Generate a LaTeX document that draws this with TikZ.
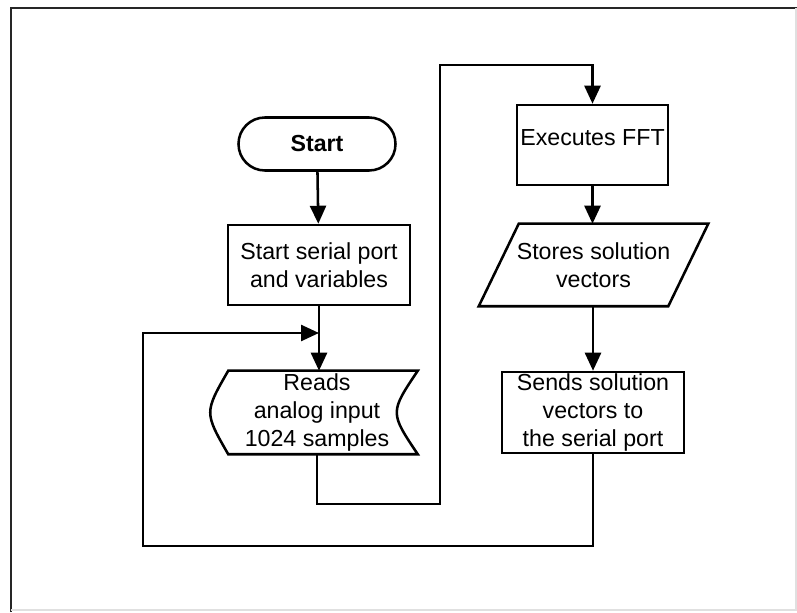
\documentclass[tikz,border=0pt]{standalone}
\usepackage{fontspec}
\setmainfont{Liberation Sans}
\usetikzlibrary{arrows.meta}

\tikzset{
  proc/.style={draw, line width=1.8pt, align=center, inner sep=0pt,
    minimum height=2cm, font=\fontsize{16.5}{19.9}\selectfont},
  flow/.style={line width=1.8pt, -{Triangle[length=4.5mm,width=4mm]}},
}

\begin{document}
\begin{tikzpicture}
	\useasboundingbox (0,0) rectangle (19.925,15.3);
	% frame
	\draw[line width=1.5pt, black!85] (0.275,0) -- (0.275,15.11) -- (19.925,15.11);
	\draw[line width=1pt, black!12] (0.275,0.05) -- (19.9,0.05) -- (19.9,15.11);
	% left column
	\node[proc, rounded corners=0.66cm, minimum width=3.925cm, minimum height=1.325cm,
		font=\fontsize{16.5}{19.9}\selectfont\bfseries] (start) at (7.925,11.7) {Start};
	\node[proc, minimum width=4.55cm] (init) at (7.975,8.675) {Start serial port\\and variables};
	\node[proc, draw=none, minimum width=4.975cm, minimum height=2.025cm] (read) at (7.925,4.9875)
		{Reads\\analog input\\1024 samples};
	\draw[line width=1.8pt] ([xshift=3mm]read.north west) -- (read.north east)
		.. controls ([xshift=-7mm]read.east) .. (read.south east)
		-- ([xshift=3mm]read.south west)
		.. controls ([xshift=-3mm]read.west) .. cycle;
	% right column
	\node[proc, minimum width=3.775cm, text depth=0.35cm] (fft) at (14.8125,11.675) {Executes FFT};
	\node[proc, draw=none, minimum width=5.675cm] (store) at (14.8375,8.675) {Stores solution\\vectors};
	\draw[line width=1.8pt] ([xshift=1cm]store.north west) -- (store.north east)
		-- ([xshift=-1cm]store.south east) -- (store.south west) -- cycle;
	\node[proc, minimum width=4.55cm, minimum height=2.025cm] (send) at (14.825,4.9875)
		{Sends solution\\vectors to\\the serial port};
	% connectors
	\coordinate (loopa) at (11,2.7);
	\coordinate (loopb) at (11,13.675);
	\coordinate (backa) at (3.575,1.65);
	\coordinate (backb) at (3.575,6.975);
	\draw[flow] (start) -- (init);
	\draw[flow] (init.south) -- (init.south |- read.north);
	\draw[flow] (read.south) |- (loopa) -- (loopb) -| (fft.north);
	\draw[flow] (fft.south) -- (fft.south |- store.north);
	\draw[flow] (send.north |- store.south) -- (send.north);
	\draw[flow] (send.south) |- (backa) -- (backb) -- (backb -| init.south);
\end{tikzpicture}
\end{document}
